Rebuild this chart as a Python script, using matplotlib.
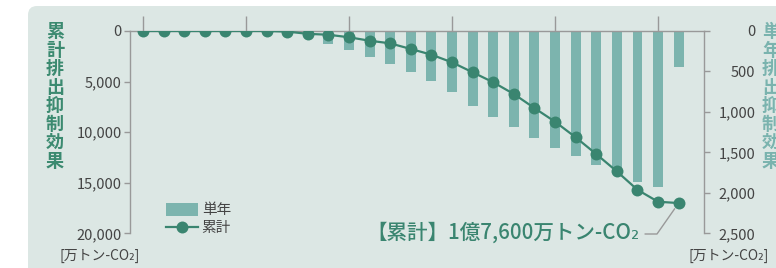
import numpy as np
import matplotlib
matplotlib.use("Agg")
import matplotlib.pyplot as plt
from matplotlib.patches import FancyBboxPatch, Patch
from matplotlib.lines import Line2D

plt.rcParams["font.family"] = ["Noto Sans CJK JP", "DejaVu Sans"]

# data (index 0..26 = one point per year)
years = list(range(27))
annual = [0, 0, 0, 0, 0, 0, 0, 0, 60, 165, 239, 321, 408, 507, 619, 755,
          928, 1064, 1188, 1324, 1448, 1547, 1662, 1760, 1866, 1930, 445]
cumulative = [0, 0, 0, 0, 0, 0, 0, 60, 280, 370, 620, 960, 1220, 1780, 2340,
              3100, 4080, 5070, 6230, 7620, 8970, 10510, 12170, 13880, 15700,
              16880, 17010]
left_ticks = [0, 5000, 10000, 15000, 20000]
right_ticks = [0, 500, 1000, 1500, 2000, 2500]
top_ticks = [0, 5, 10, 15, 20, 25]

BG = "#dce7e4"
BAR = "#7cb4ae"
DARK = "#3a8570"
TITLE_DARK = "#3b8a70"
TITLE_LIGHT = "#7ab3ae"
AXIS = "#999999"
TXT = "#444444"

W, H = 776, 268
fig = plt.figure(figsize=(W / 100, H / 100), dpi=100)
fig.patch.set_facecolor("white")

# rounded background panel, drawn in a pixel-space axes
bg = fig.add_axes([0, 0, 1, 1], zorder=-5)
bg.set_xlim(0, W)
bg.set_ylim(H, 0)
bg.axis("off")
bg.add_patch(FancyBboxPatch((28, 6), 820, 320, boxstyle="round,pad=0,rounding_size=9",
                            facecolor=BG, edgecolor="none"))

x0, x1, y0, y1 = 130, 704, 31, 233.3
ax = fig.add_axes([x0 / W, 1 - y1 / H, (x1 - x0) / W, (y1 - y0) / H])
ax2 = ax.twinx()
ax.set_zorder(ax2.get_zorder() + 1)
ax.patch.set_visible(False)
ax2.patch.set_visible(False)

ax2.bar(years, annual, width=0.48, color=BAR, zorder=2)
ax.plot(years, cumulative, color=DARK, lw=1.6, marker="o", ms=8.6,
        markeredgewidth=0, zorder=3)

ax.set_xlim(-0.63, 27.23)
ax.set_ylim(20000, 0)
ax2.set_ylim(2500, 0)

ax.xaxis.tick_top()
ax.set_xticks(top_ticks)
ax.set_xticklabels([])
ax.tick_params(axis="x", direction="out", length=11, width=1, color=AXIS)

ax.set_yticks(left_ticks)
ax.set_yticklabels([f"{v:,}" for v in left_ticks])
ax.tick_params(axis="y", direction="out", length=4, width=1, color=AXIS,
               labelsize=10.5, labelcolor=TXT, pad=2)

ax2.set_yticks(right_ticks)
ax2.set_yticklabels([f"{v:,}" for v in right_ticks])
ax2.tick_params(axis="y", direction="out", length=4, width=1, color=AXIS,
                labelsize=10.5, labelcolor=TXT, pad=33)
for lbl in ax2.get_yticklabels():
    lbl.set_horizontalalignment("right")

for a in (ax, ax2):
    for s in a.spines.values():
        s.set_visible(False)
        s.set_color(AXIS)
        s.set_linewidth(1)
ax.spines["left"].set_visible(True)
ax.spines["top"].set_visible(True)
ax2.spines["right"].set_visible(True)

# vertical titles
fig.text(55 / W, 1 - 22 / H, "\n".join("累計排出抑制効果"), ha="center", va="top",
         fontsize=13, fontweight="bold", color=TITLE_DARK, linespacing=0.97)
fig.text(771 / W, 1 - 22 / H, "\n".join("単年排出抑制効果"), ha="center", va="top",
         fontsize=13, fontweight="bold", color=TITLE_LIGHT, linespacing=0.97)

# units
fig.text(100 / W, 1 - 256 / H, "[万トン-CO₂]", ha="center", va="center",
         fontsize=10, color=TXT)
fig.text(729 / W, 1 - 256 / H, "[万トン-CO₂]", ha="center", va="center",
         fontsize=10, color=TXT)

# legend
handles = [Patch(facecolor=BAR, edgecolor="none"),
           Line2D([], [], color=DARK, lw=1.6, marker="o", ms=8.6, markeredgewidth=0)]
leg = ax.legend(handles, ["単年", "累計"], loc="upper left",
                bbox_to_anchor=(166 / W, 1 - 203 / H), bbox_transform=fig.transFigure,
                frameon=False, fontsize=10.5, handlelength=2.2, handleheight=0.95,
                handletextpad=0.25, labelspacing=0.25, borderpad=0, borderaxespad=0)
for t in leg.get_texts():
    t.set_color(TXT)

# total annotation
fig.text(640 / W, 1 - 233 / H, "【累計】1億7,600万トン-CO₂", ha="right", va="center",
         fontsize=14.8, fontweight="medium", color=DARK)
ax.annotate("", xy=(years[-1], cumulative[-1]), xycoords="data",
            xytext=(645, H - 234), textcoords="figure pixels",
            arrowprops=dict(arrowstyle="-", color=AXIS, lw=1,
                            connectionstyle="angle,angleA=0,angleB=55,rad=0",
                            shrinkA=0, shrinkB=5))

fig.savefig("out.png", dpi=100)
